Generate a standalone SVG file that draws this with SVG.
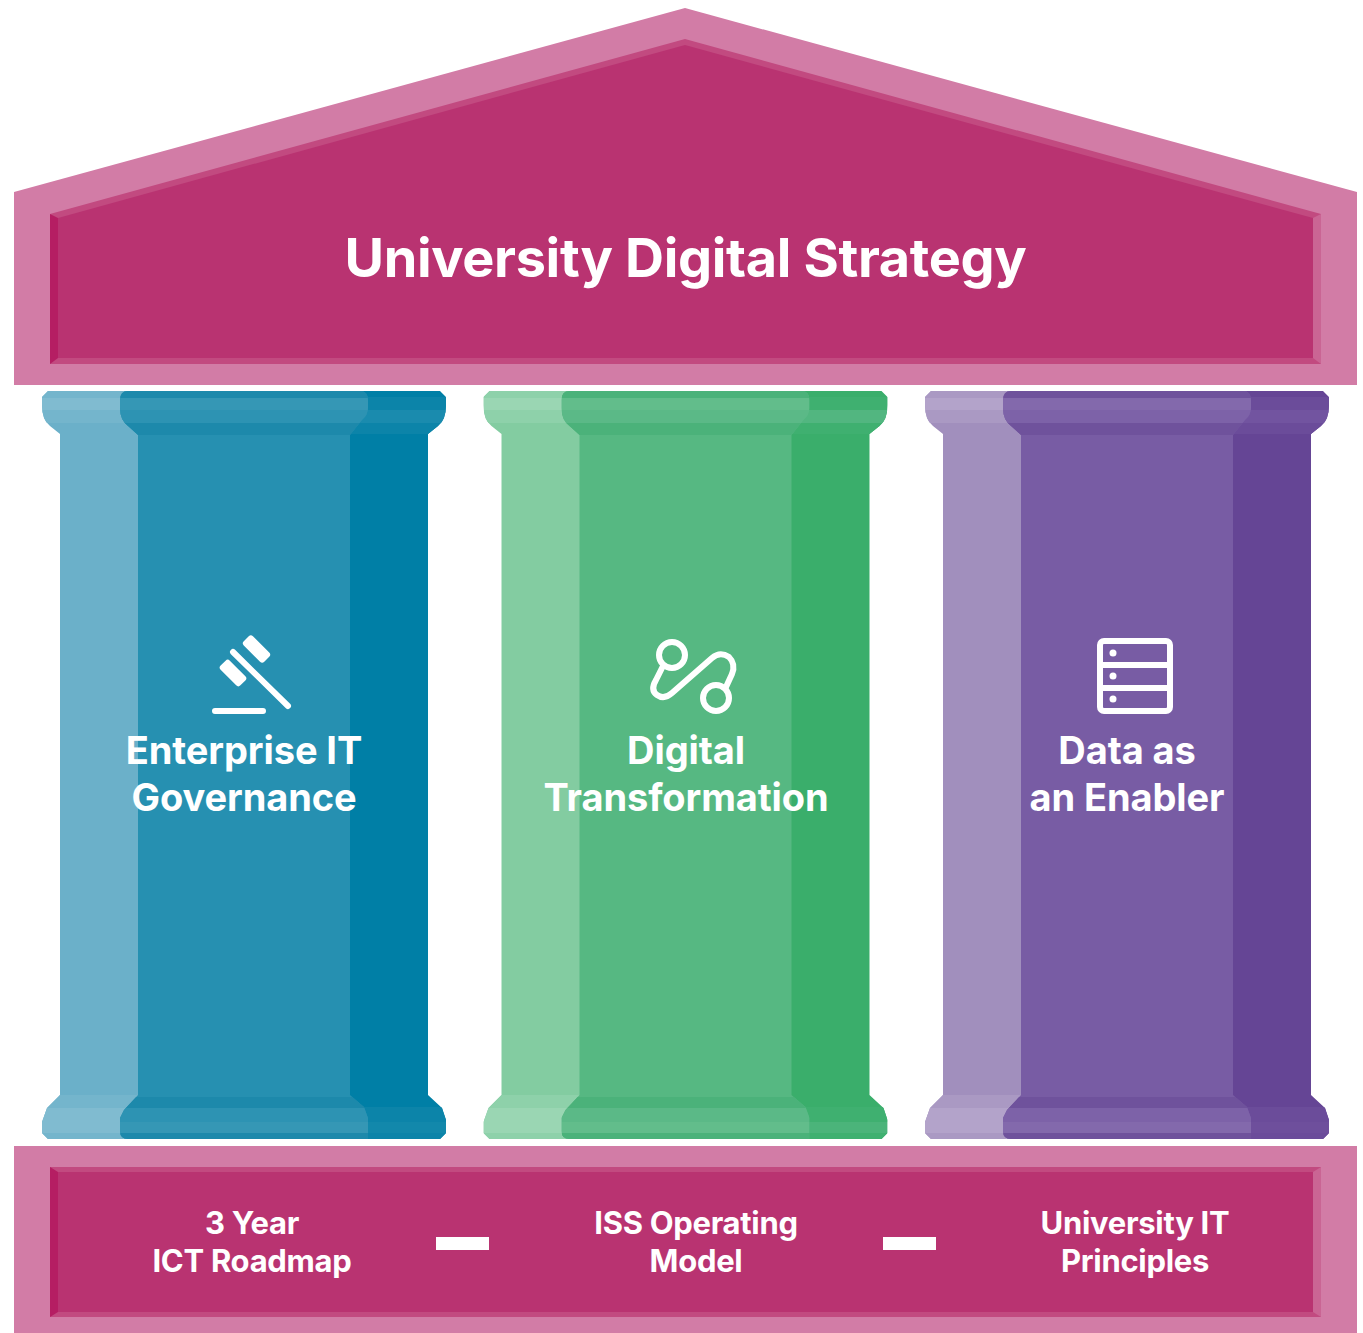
<svg xmlns="http://www.w3.org/2000/svg" width="1363" height="1333" viewBox="0 0 1363 1333">
<style>
text{font-family:Inter,"Liberation Sans",sans-serif;font-weight:700;fill:#fff;text-anchor:middle}
.t1{font-size:54px;letter-spacing:-.35px}
.t2{font-size:38px;letter-spacing:-.1px}
.t3{font-size:31px;letter-spacing:-.3px}
.ic{fill:none;stroke:#fff;stroke-width:6;stroke-linecap:round;stroke-linejoin:round}
.o{fill:#d27ca6}.m{fill:#b93371}.bd{fill:#b51e63}.bl{fill:#c24a80}.br{fill:#ca6594}
.a1{fill:var(--a1)}.a2{fill:var(--a2)}.a3{fill:var(--a3)}
.b1{fill:var(--b1)}.b2{fill:var(--b2)}.b3{fill:var(--b3)}.b4{fill:var(--b4)}
.c1{fill:var(--c1)}.c2{fill:var(--c2)}.c3{fill:var(--c3)}
#p1{--a1:#6bb0c9;--a2:#80bbd0;--a3:#74b5cc;--b1:#2690b1;--b2:#1d89ab;--b3:#3597b5;--b4:#2d93b3;--c1:#007fa6;--c2:#0c84a9;--c3:#1a8bae}
#p2{--a1:#83cca1;--a2:#9ad6b3;--a3:#8ed1aa;--b1:#56b882;--b2:#4bb27a;--b3:#62bd8b;--b4:#5bb987;--c1:#3aae6b;--c2:#3fb070;--c3:#52b680}
#p3{--a1:#a18fbd;--a2:#b3a3ca;--a3:#aa99c3;--b1:#785ca4;--b2:#6f529c;--b3:#8369ac;--b4:#7d62a8;--c1:#654595;--c2:#6b4c9a;--c3:#7254a0}
</style>
<defs>
<clipPath id="lc"><path d="M48 391H140V1139H48L42 1133V1122L47 1108L60 1095V434L50 426Q42 420 42 405V397Z"/></clipPath>
<clipPath id="mc"><path d="M128 391H360Q368 391 368 400V408Q368 415 362 420L350 435V1095L364 1107L368 1118V1139H128Q120 1139 120 1131V1118L124 1110L138 1095V435L128 426Q120 420 120 408V400Q120 391 128 391Z"/></clipPath>
<clipPath id="rc"><path d="M340 391H440L446 397V405Q446 420 438 426L428 434V1095L442 1108L446 1120V1133L440 1139H340Z"/></clipPath>
<g id="pillar">
<g clip-path="url(#lc)">
<rect class="a1" x="40" y="391" width="100" height="748"/>
<rect class="a3" x="40" y="391" width="100" height="7"/>
<rect class="a2" x="40" y="398" width="100" height="12"/>
<rect class="a3" x="40" y="410" width="100" height="13"/>
<rect class="a3" x="40" y="1095" width="100" height="13"/>
<rect class="a2" x="40" y="1108" width="100" height="25"/>
<rect class="a3" x="40" y="1133" width="100" height="6"/>
</g>
<g clip-path="url(#rc)">
<rect class="c1" x="340" y="391" width="110" height="748"/>
<rect class="c2" x="340" y="397" width="110" height="13"/>
<rect class="c3" x="340" y="410" width="110" height="13"/>
<rect class="c2" x="340" y="423" width="110" height="11"/>
<rect class="c2" x="340" y="1107" width="110" height="15"/>
<rect class="c3" x="340" y="1122" width="110" height="11" opacity=".7"/>
<rect class="c2" x="340" y="1133" width="110" height="6"/>
</g>
<g clip-path="url(#mc)">
<rect class="b1" x="118" y="391" width="252" height="748"/>
<rect class="b2" x="118" y="391" width="252" height="7"/>
<rect class="b3" x="118" y="398" width="252" height="12"/>
<rect class="b4" x="118" y="410" width="252" height="13"/>
<rect class="b2" x="118" y="423" width="252" height="12"/>
<rect class="b2" x="118" y="1097" width="252" height="11"/>
<rect class="b4" x="118" y="1108" width="252" height="14"/>
<rect class="b3" x="118" y="1122" width="252" height="11"/>
<rect class="b2" x="118" y="1133" width="252" height="6"/>
</g>
</g>
</defs>
<rect width="1363" height="1333" fill="#fff"/>
<g id="roof">
<path class="o" d="M14 192L685 8L1357 192V385H14Z"/>
<path class="bl" d="M50 214L685 39L1321 214V364H50Z"/>
<path class="bd" d="M50 214L58 218V358L50 364Z"/>
<path class="br" d="M1321 214L1313 218V358L1321 364Z"/>
<path class="m" d="M58 218L685 45L1313 218V358H58Z"/>
<text class="t1" x="685.500" y="277">University Digital Strategy</text>
</g>
<g id="p1"><use href="#pillar"/>
<path class="ic" d="M233 652L288 706M215 711H263"/>
<rect x="242" y="642.500" width="29" height="13" rx="3" fill="#fff" transform="rotate(45 256.500 649)"/>
<rect x="219" y="666.500" width="28" height="13" rx="3" fill="#fff" transform="rotate(45 233 673)"/>
<text class="t2" x="244" y="764">Enterprise IT</text>
<text class="t2" x="244" y="811">Governance</text>
</g>
<g id="p2"><use href="#pillar" x="441.500"/>
<circle class="ic" cx="672" cy="655" r="13"/><circle class="ic" cx="716" cy="698" r="13"/>
<path class="ic" d="M663 666L656 680Q650 690 657 695Q664 700 672 693L712 658Q720 651 729 657Q736 664 732 674L726 687"/>
<text class="t2" x="686" y="764">Digital</text>
<text class="t2" x="686" y="811">Transformation</text>
</g>
<g id="p3"><use href="#pillar" x="883"/>
<rect class="ic" x="1100" y="641" width="70" height="70" rx="4"/>
<path class="ic" d="M1100 665H1170M1100 688H1170"/>
<circle cx="1113" cy="653" r="3.500" fill="#fff"/><circle cx="1113" cy="676" r="3.500" fill="#fff"/><circle cx="1113" cy="699" r="3.500" fill="#fff"/>
<text class="t2" x="1127" y="764">Data as</text>
<text class="t2" x="1127" y="811">an Enabler</text>
</g>
<g id="base">
<rect class="o" x="14" y="1146" width="1343" height="187"/>
<rect class="bl" x="50" y="1167" width="1271" height="150"/>
<path class="bd" d="M50 1167L58 1172V1312L50 1317Z"/>
<path class="br" d="M1321 1167L1313 1172V1312L1321 1317Z"/>
<rect class="m" x="58" y="1172" width="1255" height="140"/>
</g>
<g id="item1"><text class="t3" x="252" y="1234">3 Year</text><text class="t3" x="252" y="1272">ICT Roadmap</text></g>
<g id="item2"><text class="t3" x="696" y="1234">ISS Operating</text><text class="t3" x="696" y="1272">Model</text></g>
<g id="item3"><text class="t3" x="1135" y="1234">University IT</text><text class="t3" x="1135" y="1272">Principles</text></g>
<g id="connectors" fill="#fff"><rect x="436" y="1237" width="53" height="13"/><rect x="883" y="1237" width="53" height="13"/></g>
</svg>
